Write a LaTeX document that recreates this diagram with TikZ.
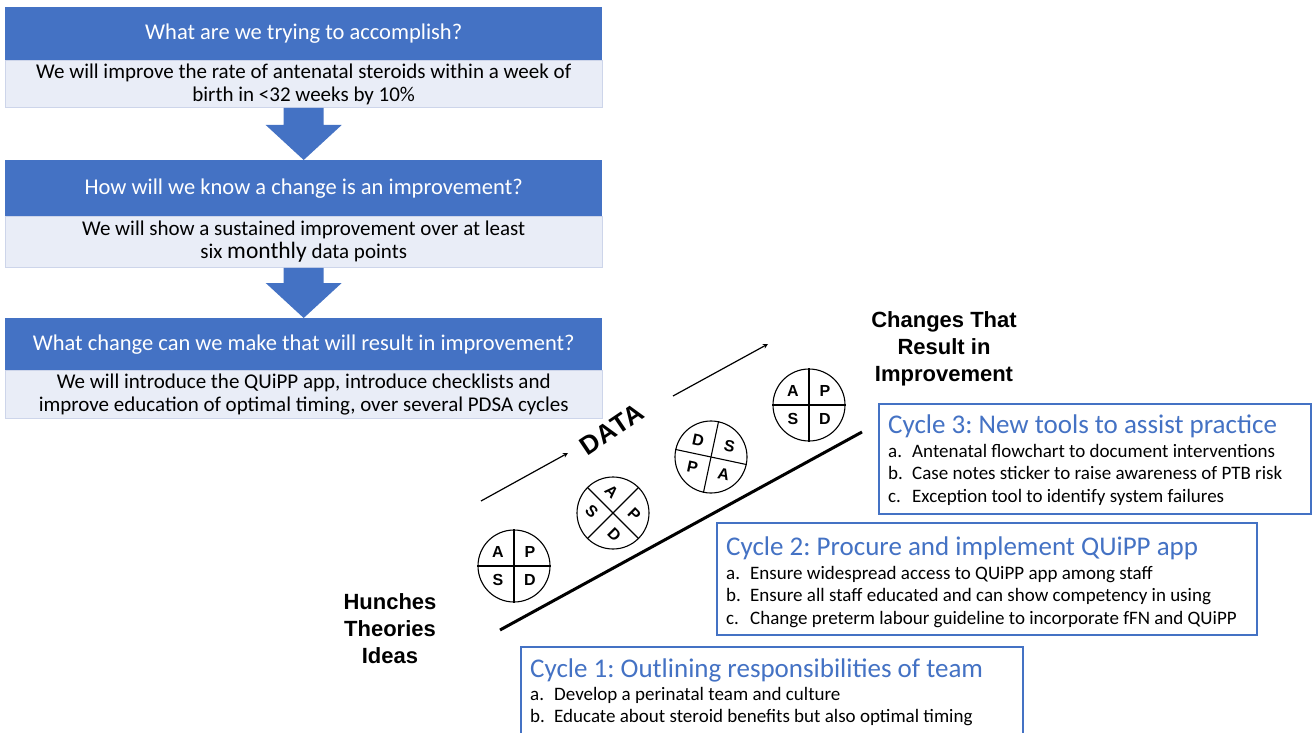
\documentclass[tikz,border=0pt]{standalone}
\usepackage{fontspec}
\setmainfont{Carlito}
\newfontfamily\arialfont{Liberation Sans}
\newfontfamily\datafont[LetterSpace=3]{Liberation Sans}
\frenchspacing
\usetikzlibrary{arrows,calc,positioning}
\definecolor{hdrblue}{HTML}{4472C4}
\definecolor{bodyblue}{HTML}{E9EDF7}
\definecolor{bodyline}{HTML}{CDD5EA}
\tikzset{
  qhead/.style={fill=hdrblue,text=white,minimum width=597pt,anchor=north west,inner sep=0pt,font=\fontsize{22.5}{26}\selectfont},
  qbody/.style={fill=bodyblue,draw=bodyline,minimum width=597pt,inner sep=0pt,align=center,font=\fontsize{21}{23}\selectfont},
  sidelbl/.style={align=center,inner sep=0pt,font=\arialfont\bfseries\fontsize{22}{27}\selectfont},
  pdsa/.style={circle,draw,line width=1.1pt,minimum size=72pt,inner sep=0pt,transform shape},
  pdsaltr/.style={inner sep=0pt,transform shape,font=\arialfont\bfseries\fontsize{16}{16}\selectfont},
  cycbox/.style={draw=hdrblue,line width=1.6pt,anchor=north west,inner sep=0pt},
  cyctitle/.style={anchor=base west,inner sep=0pt,text=hdrblue,font=\fontsize{27}{30}\selectfont},
  cycitem/.style={anchor=base west,inner sep=0pt,font=\fontsize{19}{22}\selectfont}
}
\begin{document}
\begin{tikzpicture}[x=1pt,y=-1pt]
\useasboundingbox[fill=white](0,0)rectangle(1315,733);
%model for improvement questions
\node[qhead,minimum height=53pt](q1head)at(5,7){What are we trying to accomplish?};
\node[qbody,below=0pt of q1head,minimum height=47pt](q1body){We will improve the rate of antenatal steroids within a week of\\birth in <32 weeks by 10\%};
\node[qhead,minimum height=56pt](q2head)at(5,160){How will we know a change is an improvement?};
\node[qbody,below=0pt of q2head,minimum height=51pt](q2body){We will show a sustained improvement over at least\\six {\fontsize{23.5}{26}\selectfont monthly} data points};
\node[qhead,minimum height=52pt](q3head)at(5,318){What change can we make that will result in improvement?};
\node[qbody,below=0pt of q3head,minimum height=48pt](q3body){We will introduce the QUiPP app, introduce checklists and\\improve education of optimal timing, over several PDSA cycles};
\foreach \a/\b in {q1body/q2head,q2body/q3head}{
\fill[hdrblue]($(\a.south)+(-20,0)$)--($(\b.north)+(-20,-35)$)--($(\b.north)+(-38,-35)$)--(\b.north)--($(\b.north)+(38,-35)$)--($(\b.north)+(20,-35)$)--($(\a.south)+(20,0)$)--cycle;
}
%ramp of pdsa cycles
\coordinate(rampstart)at(500,630);
\coordinate(rampend)at(862,432);
\draw[line width=3pt](rampstart)--(rampend);
\coordinate(lowstart)at(481,501);
\coordinate(lowend)at(568,453);
\coordinate(highstart)at(673,396);
\coordinate(highend)at(768,344);
\draw[->,>=stealth,line width=1.2pt](lowstart)--(lowend);
\draw[->,>=stealth,line width=1.2pt](highstart)--(highend);
\node[rotate=34,inner sep=0pt,font=\datafont\bfseries\fontsize{26}{26}\selectfont](data)at(612,429){DATA};
\foreach \k/\cx/\cy/\rot/\la/\lb/\lc/\ld in {1/514/566/0/A/P/S/D,2/613/513/-45/A/P/S/D,3/711/457/-12/D/S/P/A,4/809/405/0/A/P/S/D}{
\begin{scope}[shift={(\cx,\cy)},rotate=\rot]
\node[pdsa](c\k)at(0,0){};
\draw[line width=1.1pt](c\k.north)--(c\k.south);
\draw[line width=1.1pt](c\k.west)--(c\k.east);
\node[pdsaltr](c\k tl)at(-16,-14){\la};
\node[pdsaltr](c\k tr)at(16,-14){\lb};
\node[pdsaltr](c\k bl)at(-16,14){\lc};
\node[pdsaltr](c\k br)at(16,14){\ld};
\end{scope}
}
%labels
\node[sidelbl](changes)at(944,349){Changes That\\Result in\\Improvement};
\node[sidelbl](hunches)at(390,629){Hunches\\Theories\\Ideas};
%cycles
\node[cycbox,minimum width=432pt,minimum height=110pt](cyc3)at(878,403){};
\node[cyctitle](cyc3title)at(888,433){Cycle 3: New tools to assist practice};
\foreach \i/\l/\t in {0/a/Antenatal flowchart to document interventions,1/b/Case notes sticker to raise awareness of PTB risk,2/c/Exception tool to identify system failures}{
\node[cycitem](cyc3\l)at(888,457+22.5*\i){\makebox[24pt][l]{\l.}\t};
}
\node[cycbox,minimum width=540pt,minimum height=112pt](cyc2)at(716,522){};
\node[cyctitle](cyc2title)at(726,555){Cycle 2: Procure and implement QUiPP app};
\foreach \i/\l/\t in {0/a/Ensure widespread access to QUiPP app among staff,1/b/Ensure all staff educated and can show competency in using,2/c/Change preterm labour guideline to incorporate fFN and QUiPP}{
\node[cycitem](cyc2\l)at(726,579+22.5*\i){\makebox[24pt][l]{\l.}\t};
}
\node[cycbox,minimum width=502pt,minimum height=100pt](cyc1)at(520,646){};
\node[cyctitle](cyc1title)at(530,677){Cycle 1: Outlining responsibilities of team};
\foreach \i/\l/\t in {0/a/Develop a perinatal team and culture,1/b/Educate about steroid benefits but also optimal timing}{
\node[cycitem](cyc1\l)at(530,700+22.5*\i){\makebox[24pt][l]{\l.}\t};
}
\end{tikzpicture}
\end{document}
